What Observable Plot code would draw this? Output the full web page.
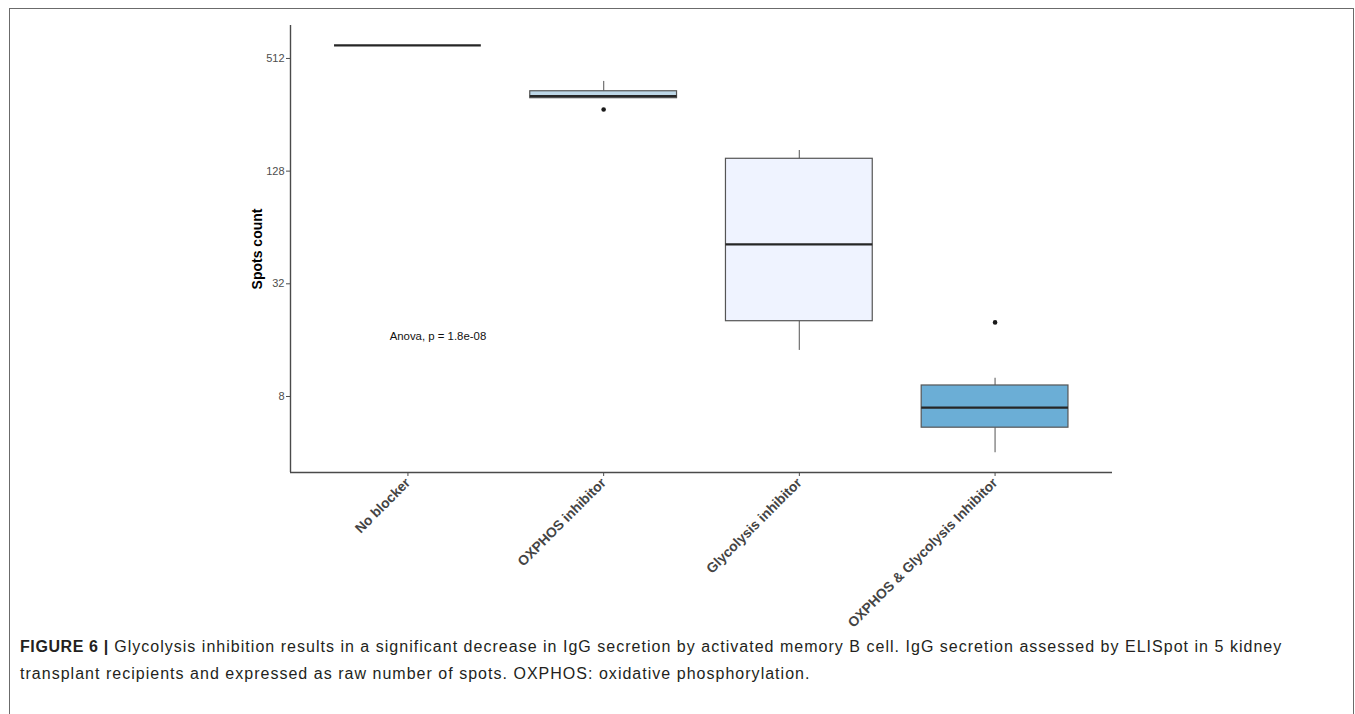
<!DOCTYPE html>
<html>
<head>
<meta charset="utf-8">
<script src="https://cdn.jsdelivr.net/npm/d3@7"></script>
<script src="https://cdn.jsdelivr.net/npm/@observablehq/plot@0.6"></script>
<style>
  html, body { margin: 0; padding: 0; background: #fff; }
  body { width: 1355px; height: 714px; position: relative; overflow: hidden; font-family: "Liberation Sans", Arial, sans-serif; }
  #frame { position: absolute; left: 9px; top: 8px; width: 1345px; height: 800px; border: 1.5px solid #6b6b6b; border-bottom: none; box-sizing: border-box; }
  #chart { position: absolute; left: 0; top: 0; }
  #caption { position: absolute; left: 20px; top: 633px; width: 1325px; font-size: 16px; letter-spacing: 1.02px; line-height: 27px; color: #231f20; white-space: nowrap; }
  #caption b { font-weight: bold; letter-spacing: 0.6px; }
</style>
</head>
<body>
<div id="frame"></div>
<div id="chart"></div>
<div id="caption"><b>FIGURE 6 |</b> Glycolysis inhibition results in a significant decrease in IgG secretion by activated memory B cell. IgG secretion assessed by ELISpot in 5 kidney<br>transplant recipients and expressed as raw number of spots. OXPHOS: oxidative phosphorylation.</div>
<script>
// Box-plot summaries (spots count)
const categories = ["No blocker", "OXPHOS inhibitor", "Glycolysis inhibitor", "OXPHOS & Glycolysis Inhibitor"];
const whiskerLow  = [601, 314, 14.1, 4.0];
const q1          = [601, 314, 20.2, 5.45];
const median      = [601, 322, 52, 6.97];
const q3          = [601, 342, 149, 9.16];
const whiskerHigh = [601, 386, 165, 10.0];
const outlierGroup = [1, 3];
const outlierValue = [273, 19.9];
const fills = ["#2171b5", "#bdd7e7", "#eff3ff", "#6baed6"];
const yTicks = [8, 32, 128, 512];
const annotation = "Anova, p = 1.8e-08";

const boxes = categories.map((c, i) => ({
  i, c, lo: whiskerLow[i], q1: q1[i], med: median[i], q3: q3[i], hi: whiskerHigh[i], fill: fills[i],
  x1: i - 0.375, x2: i + 0.375
}));
const outliers = outlierGroup.map((g, k) => ({i: g, v: outlierValue[k]}));

const yDomain = [3.14, 768];
const xDomain = [-0.6, categories.length - 1 + 0.6];

const chart = Plot.plot({
  width: 1355,
  height: 640,
  marginLeft: 290,
  marginRight: 243,
  marginTop: 25,
  marginBottom: 168,
  style: { fontFamily: "'Liberation Sans', Arial, sans-serif", background: "transparent", overflow: "visible" },
  x: { domain: xDomain, axis: null },
  y: { type: "log", base: 2, domain: yDomain, axis: null },
  marks: [
    // whiskers
    Plot.ruleX(boxes, { x: "i", y1: "lo", y2: "q1", stroke: "#7a7a7a", strokeWidth: 1.3 }),
    Plot.ruleX(boxes, { x: "i", y1: "q3", y2: "hi", stroke: "#7a7a7a", strokeWidth: 1.3 }),
    // boxes
    Plot.rect(boxes, { x1: "x1", x2: "x2", y1: "q1", y2: "q3", fill: "fill", stroke: "#555", strokeWidth: 1.2 }),
    // medians
    Plot.ruleY(boxes, { x1: "x1", x2: "x2", y: "med", stroke: "#262626", strokeWidth: 2.2 }),
    // outliers
    Plot.dot(outliers, { x: "i", y: "v", r: 2.3, fill: "#1a1a1a", stroke: "none" }),
    // annotation
    Plot.text([annotation], { x: 0, y: 16.7, dx: 30, text: d => d, fontSize: 11.4, fill: "#111", textAnchor: "middle" }),
    // axes lines
    Plot.ruleY([yDomain[0]], { stroke: "#4a4a4a", strokeWidth: 1.4 }),
    Plot.ruleX([xDomain[0]], { stroke: "#4a4a4a", strokeWidth: 1.4 }),
    // y axis
    Plot.axisY({ ticks: yTicks, tickFormat: d => String(d), tickSize: 4, tickPadding: 2, fontSize: 11, color: "#4d4d4d", stroke: "#4d4d4d", label: null }),
    // y label
    Plot.text(["Spots count"], { frameAnchor: "left", dx: -33, rotate: -90, text: d => d, fontSize: 14, fontWeight: "bold", fill: "#000", textAnchor: "middle" }),
    // x axis
    Plot.axisX({ ticks: d3.range(categories.length), tickFormat: i => categories[i], tickSize: 4, tickRotate: -45, fontSize: 13.8, fontWeight: "bold", color: "#444", stroke: "#4d4d4d", label: null, tickPadding: 4 })
  ]
});
document.getElementById("chart").appendChild(chart);
</script>
</body>
</html>
